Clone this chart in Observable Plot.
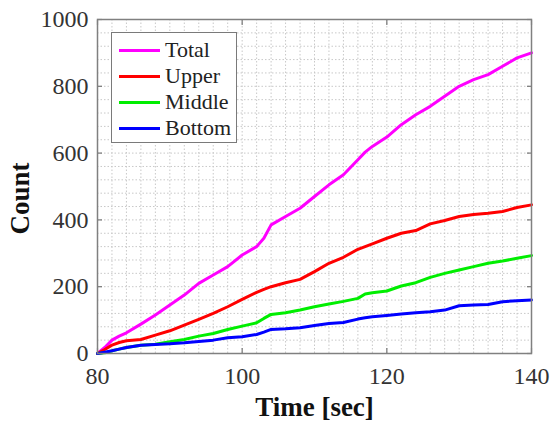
<!DOCTYPE html>
<html>
<head>
<meta charset="utf-8">
<script src="https://cdn.jsdelivr.net/npm/d3@7"></script>
<script src="https://cdn.jsdelivr.net/npm/@observablehq/plot@0.6"></script>
<style>
  html, body { margin: 0; padding: 0; background: #fff; }
  #wrap { position: relative; width: 554px; height: 421px; }
  #legend {
    position: absolute; left: 111px; top: 32px; width: 126px; height: 111px;
    border: 1.5px solid #7a7a7a; background: #fff; box-sizing: border-box;
    font-family: "Liberation Serif", "Times New Roman", serif; font-size: 22px; color: #222;
  }
  .item { position: absolute; left: 7px; height: 26px; display: flex; align-items: center; }
  .swatch { width: 41px; height: 3px; margin-right: 5px; }
</style>
</head>
<body>
<div id="wrap"><div id="legend"></div></div>
<script>
// Time axis samples (seconds)
const times = [80, 81, 82, 83, 84, 86, 88, 90, 92, 94, 96, 98, 100, 102, 103, 104, 106, 108, 110, 112, 114, 116, 117, 118, 120, 122, 124, 126, 128, 130, 132, 134, 136, 138, 140];

const seriesNames = ["Total", "Upper", "Middle", "Bottom"];
const seriesColors = ["#ff00ff", "#ff0000", "#00ee00", "#0000ff"];

const total  = [0, 18, 40, 52, 62, 88, 115, 145, 175, 210, 235, 260, 295, 320, 345, 385, 410, 435, 470, 505, 535, 580, 603, 620, 648, 685, 715, 740, 770, 800, 820, 835, 860, 885, 900];
const upper  = [0, 12, 25, 33, 38, 42, 55, 68, 85, 102, 120, 140, 162, 183, 192, 200, 212, 222, 245, 270, 288, 312, 320, 328, 345, 360, 368, 388, 398, 410, 416, 420, 425, 437, 445];
const middle = [0, 2, 8, 13, 18, 25, 28, 35, 42, 52, 60, 72, 82, 92, 105, 117, 122, 130, 140, 148, 156, 165, 178, 182, 187, 202, 212, 228, 240, 250, 260, 270, 277, 285, 293];
const bottom = [0, 4, 8, 13, 18, 25, 27, 29, 32, 36, 40, 47, 50, 57, 64, 72, 74, 77, 84, 90, 93, 103, 107, 110, 114, 118, 122, 125, 130, 143, 145, 147, 155, 158, 160];

const xTicks = [80, 100, 120, 140];
const yTicks = [0, 200, 400, 600, 800, 1000];
const xMinor = d3.range(80, 141, 2);
const yMinor = d3.range(0, 1001, 40);

const allValues = [total, upper, middle, bottom];
const data = [];
seriesNames.forEach((name, i) => {
  times.forEach((t, j) => data.push({series: name, time: t, count: allValues[i][j]}));
});

const font = '"Liberation Serif", "Times New Roman", serif';
const gridStyle = {stroke: "#c8c8c8", strokeOpacity: 1, strokeWidth: 1, strokeDasharray: "1.5,2"};
const tickStyle = {stroke: "#777", strokeWidth: 1.2};
const fmt = d => String(d);

const chart = Plot.plot({
  width: 554,
  height: 421,
  marginLeft: 97,
  marginRight: 23,
  marginTop: 19,
  marginBottom: 68,
  style: {fontFamily: font, fontSize: "24px", color: "#333", background: "#fff"},
  x: {domain: [80, 140]},
  y: {domain: [0, 1000]},
  color: {domain: seriesNames, range: seriesColors},
  marks: [
    Plot.gridX(xMinor, gridStyle),
    Plot.gridY(yMinor, gridStyle),
    // tick labels
    Plot.axisX(xTicks, {anchor: "bottom", tickSize: 0, tickPadding: 13, tickFormat: fmt, label: null, fontSize: 24, fontFamily: font, fill: "#333"}),
    Plot.axisY(yTicks, {anchor: "left", tickSize: 0, tickPadding: 9, tickFormat: fmt, label: null, fontSize: 24, fontFamily: font, fill: "#333"}),
    // inward tick marks on all four sides
    Plot.axisX(xTicks, {anchor: "bottom", tickSize: 5, dy: -5, text: null, label: null, ...tickStyle}),
    Plot.axisX(xTicks, {anchor: "top", tickSize: 5, dy: 5, text: null, label: null, ...tickStyle}),
    Plot.axisY(yTicks, {anchor: "left", tickSize: 5, dx: 5, text: null, label: null, ...tickStyle}),
    Plot.axisY(yTicks, {anchor: "right", tickSize: 5, dx: -5, text: null, label: null, ...tickStyle}),
    Plot.line(data, {x: "time", y: "count", z: "series", stroke: "series", strokeWidth: 3, curve: "linear"}),
    Plot.frame({stroke: "#808080", strokeWidth: 1.5}),
    Plot.text(["Time [sec]"], {frameAnchor: "bottom", lineAnchor: "middle", textAnchor: "middle", dy: 54, fontWeight: "bold", fontSize: 27, fontFamily: font, fill: "#111"}),
    Plot.text(["Count"], {frameAnchor: "left", lineAnchor: "middle", textAnchor: "middle", dx: -77, dy: 12, rotate: -90, fontWeight: "bold", fontSize: 27, fontFamily: font, fill: "#111"})
  ]
});

const wrap = document.getElementById("wrap");
wrap.insertBefore(chart, wrap.firstChild);

const legend = document.getElementById("legend");
seriesNames.forEach((name, i) => {
  const item = document.createElement("div");
  item.className = "item";
  item.style.top = (4 + i * 26) + "px";
  const sw = document.createElement("span");
  sw.className = "swatch";
  sw.style.background = seriesColors[i];
  const lb = document.createElement("span");
  lb.textContent = name;
  item.appendChild(sw);
  item.appendChild(lb);
  legend.appendChild(item);
});
</script>
</body>
</html>
